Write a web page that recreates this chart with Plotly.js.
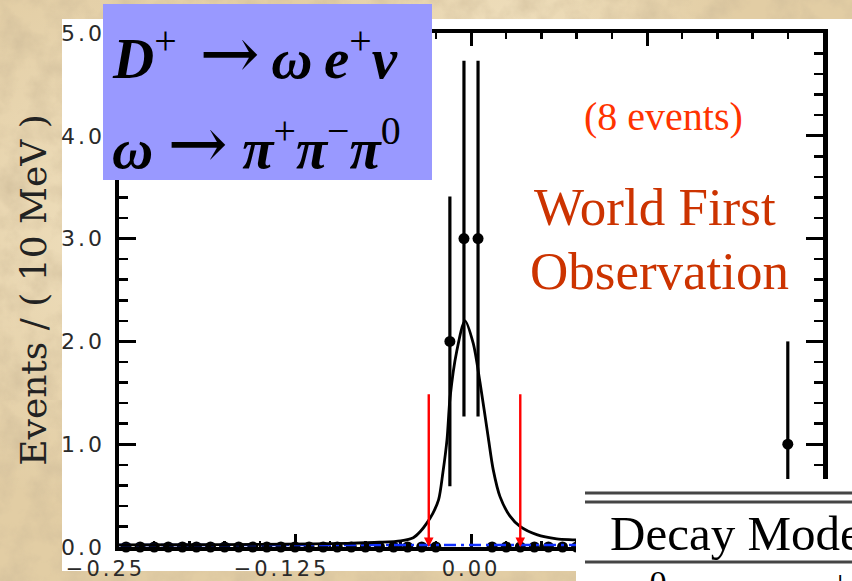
<!DOCTYPE html>
<html>
<head>
<meta charset="utf-8">
<script src="https://cdn.plot.ly/plotly-3.0.1.min.js"></script>
<style>
  html, body { margin:0; padding:0; width:852px; height:581px; overflow:hidden; }
  body {
    background-color:#e2cda4;
    background-image:
      url("data:image/svg+xml;utf8,<svg xmlns='http://www.w3.org/2000/svg' width='400' height='400'><filter id='n'><feTurbulence type='fractalNoise' baseFrequency='0.035' numOctaves='4' seed='3'/><feColorMatrix values='0 0 0 0 0.62  0 0 0 0 0.5  0 0 0 0 0.32  1.3 0 0 0 -0.5'/></filter><rect width='100%' height='100%' filter='url(%23n)'/></svg>"),
      radial-gradient(circle at 15% 40%, rgba(250,238,210,0.55), rgba(0,0,0,0) 35%),
      radial-gradient(circle at 60% 5%, rgba(250,238,210,0.5), rgba(0,0,0,0) 30%);
  }
  #white { position:absolute; left:62px; top:19px; width:790px; height:552px; background:#ffffff; }
  #chart { position:absolute; left:0; top:0; width:852px; height:581px; }
  .xtick text, .ytick text { letter-spacing:3px; }
</style>
</head>
<body>
<div id="white"></div>
<div id="chart"></div>
<script>
// ---- data ----
// bin centres (10 MeV bins) of Delta-M (GeV)
const binX = [-0.245,-0.235,-0.225,-0.215,-0.205,-0.195,-0.185,-0.175,-0.165,-0.155,
              -0.145,-0.135,-0.125,-0.115,-0.105,-0.095,-0.085,-0.075,-0.065,-0.055,
              -0.045,-0.035,-0.025,-0.015,-0.005, 0.005, 0.015, 0.025, 0.035, 0.045,
               0.055, 0.065, 0.075, 0.085, 0.095, 0.105, 0.115, 0.125, 0.135, 0.145,
               0.155, 0.165, 0.175, 0.185, 0.195, 0.205, 0.215, 0.225, 0.235, 0.245];
const counts = [0,0,0,0,0,0,0,0,0,0,
                0,0,0,0,0,0,0,0,0,0,
                0,0,0,2,3,3,0,0,0,0,
                0,0,0,0,0,0,0,0,0,0,
                0,0,0,0,0,0,0,1,0,0];
const countErr = [0,0,0,0,0,0,0,0,0,0,
                  0,0,0,0,0,0,0,0,0,0,
                  0,0,0,1.41,1.73,1.73,0,0,0,0,
                  0,0,0,0,0,0,0,0,0,0,
                  0,0,0,0,0,0,0,1.0,0,0];
// fitted signal shape
const fitX = [-0.25,-0.2,-0.15,-0.112,-0.088,-0.065,-0.05,-0.041,-0.036,-0.0315,-0.027,-0.023,-0.020,-0.017,-0.0149,-0.0102,-0.0043,0.0016,0.0064,0.0123,0.0158,0.0206,0.0277,0.0348,0.0467,0.0609,0.0739,0.1,0.15,0.2,0.25];
const fitY = [0.02,0.022,0.026,0.03,0.036,0.046,0.06,0.09,0.15,0.23,0.33,0.46,0.72,1.05,1.45,1.90,2.20,1.98,1.60,1.06,0.75,0.49,0.30,0.20,0.12,0.08,0.07,0.05,0.035,0.03,0.025];
// background shape
const bkgX = [-0.25, 0.25];
const bkgY = [0.02, 0.02];
// signal-region cuts
const cutX = [-0.03, 0.035];
const cutTop = [1.5, 1.5];
// ticks
const xTickVals = [-0.25, -0.125, 0, 0.125, 0.25];
const xTickText = ['\u22120.25\u2002\u2002', '\u22120.125\u2002\u2002', '0.00', '0.125', '0.25'];
const yTickVals = [0, 1, 2, 3, 4, 5];
const yTickText = ['0.0', '1.0', '2.0', '3.0', '4.0', '5.0'];
// texts
const arrow1 = '<span style="font-family:DejaVu Serif;font-size:72px"> \u2192</span>\u2009';
const arrow2 = '<span style="font-family:DejaVu Serif;font-size:72px">\u2009\u2192\u2009</span>';
const yTitle = 'Events / ( 10 MeV )';
const line1 = '<b><i>D</i></b><sup>+</sup>' + arrow1 + '<b><i>\u03c9\u2009e</i></b><sup>+</sup><b><i>\u03bd</i></b>';
const line2 = '<b><i>\u03c9</i></b>' + arrow2 + '<b><i>\u03c0</i></b><sup>+</sup><b><i>\u03c0</i></b><sup>\u2212</sup><b><i>\u03c0</i></b><sup>0</sup>';
const nEventsText = '(8 events)';
const worldText = ['World First', 'Observation'];
const tableHead = 'Decay Mode';
const tableRow = 'D<sup>0</sup> \u2192  \u03c0<sup>\u2212</sup> e<sup>+</sup>\u03bd';

// ---- build traces ----
const zeroX = [], zeroY = [], hitX = [], hitY = [], hitE = [];
binX.forEach((x, i) => {
  if (counts[i] === 0) { zeroX.push(x); zeroY.push(counts[i]); }
  else { hitX.push(x); hitY.push(counts[i]); hitE.push(countErr[i]); }
});

const traces = [
  { x: zeroX, y: zeroY, mode: 'markers', marker: {color: 'black', size: 11}, cliponaxis: false },
  { x: bkgX, y: bkgY, mode: 'lines', line: {color: '#1030ff', width: 2.5, dash: '12px,5px,3px,5px'}, hoverinfo: 'skip', cliponaxis: false },
  { x: hitX, y: hitY, mode: 'markers', marker: {color: 'black', size: 11},
    error_y: {type: 'data', array: hitE, visible: true, color: 'black', thickness: 3.2, width: 0}, cliponaxis: false },
  { x: fitX, y: fitY, mode: 'lines', line: {color: 'black', width: 2.8, shape: 'spline', smoothing: 0.8} }
];

const L = 119, R = 823, T = 33, B = 547, W = 852, H = 581;
const px = v => (v - L) / (R - L);
const py = v => (B - v) / (B - T);

const annotations = [];
cutX.forEach((x, i) => annotations.push({
  x: x, y: 0, ax: x, ay: cutTop[i], xref: 'x', yref: 'y', axref: 'x', ayref: 'y',
  text: '', showarrow: true, arrowhead: 2, arrowsize: 0.8, arrowwidth: 2.4, arrowcolor: '#ff0000'
}));
annotations.push(
  { xref: 'paper', yref: 'paper', x: px(110), y: py(53), xanchor: 'left', yanchor: 'middle', showarrow: false,
    text: line1, font: {family: 'Liberation Serif', size: 57, color: 'black'} },
  { xref: 'paper', yref: 'paper', x: px(110), y: py(143), xanchor: 'left', yanchor: 'middle', showarrow: false,
    text: line2, font: {family: 'Liberation Serif', size: 57, color: 'black'} },
  { xref: 'paper', yref: 'paper', x: px(663), y: py(117), xanchor: 'center', yanchor: 'middle', showarrow: false,
    text: nEventsText, font: {family: 'Liberation Serif', size: 40, color: '#ff3300'} },
  { xref: 'paper', yref: 'paper', x: px(655), y: py(207), xanchor: 'center', yanchor: 'middle', showarrow: false,
    text: worldText[0], font: {family: 'Liberation Serif', size: 53, color: '#cc3300'} },
  { xref: 'paper', yref: 'paper', x: px(659), y: py(271), xanchor: 'center', yanchor: 'middle', showarrow: false,
    text: worldText[1], font: {family: 'Liberation Serif', size: 53, color: '#cc3300'} },
  { xref: 'paper', yref: 'paper', x: px(608), y: py(533), xanchor: 'left', yanchor: 'middle', showarrow: false,
    text: tableHead, font: {family: 'Liberation Serif', size: 49, color: 'black'} },
  { xref: 'paper', yref: 'paper', x: px(612), y: py(594), xanchor: 'left', yanchor: 'middle', showarrow: false,
    text: tableRow, font: {family: 'Liberation Serif', size: 49, color: 'black'} }
);

const shapes = [
  { type: 'rect', xref: 'paper', yref: 'paper', x0: px(103), x1: px(432), y0: py(180), y1: py(4),
    fillcolor: '#9999ff', line: {width: 0}, layer: 'above' },
  { type: 'rect', xref: 'paper', yref: 'paper', x0: px(576), x1: px(870), y0: py(600), y1: py(479),
    fillcolor: '#ffffff', line: {width: 0}, layer: 'above' },
  { type: 'line', xref: 'paper', yref: 'paper', x0: px(585), x1: px(870), y0: py(493), y1: py(493),
    line: {color: '#454545', width: 3}, layer: 'above' },
  { type: 'line', xref: 'paper', yref: 'paper', x0: px(585), x1: px(870), y0: py(502), y1: py(502),
    line: {color: '#454545', width: 3}, layer: 'above' },
  { type: 'line', xref: 'paper', yref: 'paper', x0: px(585), x1: px(870), y0: py(562), y1: py(562),
    line: {color: '#454545', width: 3}, layer: 'above' }
];

const layout = {
  width: W, height: H,
  margin: {l: L, r: W - R, t: T, b: H - B, pad: 0},
  paper_bgcolor: 'rgba(0,0,0,0)',
  plot_bgcolor: '#ffffff',
  showlegend: false,
  xaxis: {
    range: [-0.25, 0.25], tickmode: 'array', tickvals: xTickVals, ticktext: xTickText,
    ticks: 'inside', ticklen: 13, tickwidth: 3, tickcolor: 'black',
    showline: true, linewidth: 4, linecolor: 'black', mirror: 'ticks', layer: 'below traces',
    showgrid: false, zeroline: false, ticklabelstandoff: 0,
    minor: {tickmode: 'linear', tick0: 0, dtick: 0.025, ticks: 'inside', ticklen: 6, tickwidth: 2.5, tickcolor: 'black', showgrid: false},
    tickfont: {family: 'DejaVu Sans', size: 21, color: '#2a2a2a'}
  },
  yaxis: {
    range: [0, 5], tickmode: 'array', tickvals: yTickVals, ticktext: yTickText,
    ticks: 'inside', ticklen: 17, tickwidth: 3, tickcolor: 'black',
    showline: true, linewidth: 4.5, linecolor: 'black', mirror: 'ticks', layer: 'below traces',
    showgrid: false, zeroline: false, ticklabelstandoff: 5,
    minor: {tickmode: 'linear', tick0: 0, dtick: 0.2, ticks: 'inside', ticklen: 9, tickwidth: 2.5, tickcolor: 'black', showgrid: false},
    tickfont: {family: 'DejaVu Sans', size: 22, color: '#2a2a2a'},
    title: {text: yTitle, font: {family: 'DejaVu Serif', size: 36, color: '#222'}, standoff: 5}
  },
  shapes: shapes,
  annotations: annotations
};

Plotly.newPlot('chart', traces, layout, {displayModeBar: false, staticPlot: true});
</script>
</body>
</html>
